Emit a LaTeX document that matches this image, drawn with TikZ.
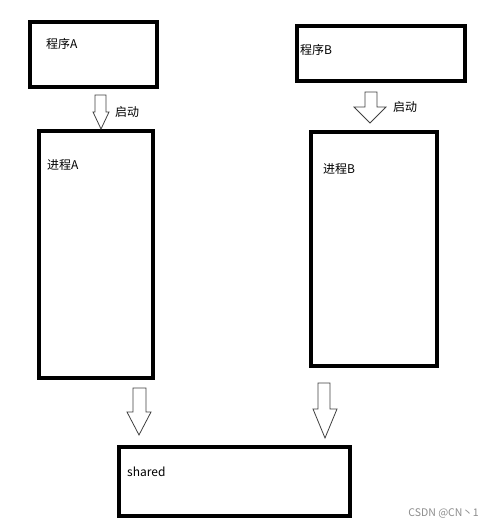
\documentclass[tikz,border=0pt]{standalone}
\usepackage{fontspec}
\setmainfont{Liberation Sans}
\newfontfamily\cjk{Noto Sans CJK SC}
\begin{document}
\begin{tikzpicture}[x=1pt,y=-1pt,
  box/.style={draw=black,line width=3.8pt},
  lbl/.style={font=\cjk\fontsize{12}{14}\selectfont,inner sep=0pt,anchor=west},
  blockarrow/.style={draw=black!75,line width=0.8pt,fill=white,line join=miter}]
\useasboundingbox (0,0) rectangle (490,527);
% boxes
\draw[box] (30,22) rectangle (157,87);
\draw[box] (39,131) rectangle (153,378);
\draw[box] (297,26) rectangle (465,81);
\draw[box] (311,132) rectangle (437,366);
\draw[box] (119,447) rectangle (350,516);
% labels
\node[lbl] (pa) at (46,44) {程序A};
\node[lbl] (ja) at (47,165) {进程A};
\node[lbl] (pb) at (300,50) {程序B};
\node[lbl] (jb) at (323,169) {进程B};
\node[lbl] (sh) at (127,472) {shared};
\node[lbl] (qa) at (115,112) {启动};
\node[lbl] (qb) at (393,107) {启动};
\node[font=\cjk\fontsize{10.5}{12}\selectfont,text=black!45,inner sep=0pt,anchor=east] (wm) at (479,513) {CSDN @CN丶1};
% block arrows
\draw[blockarrow] (95,95) -- (106,95) -- (106,112) -- (109,112) -- (101,129) -- (93,112) -- (95,112) -- cycle;
\draw[blockarrow] (365,92) -- (377,92) -- (377,107) -- (386,107) -- (370,123) -- (354,107) -- (365,107) -- cycle;
\draw[blockarrow] (133,388) -- (146,388) -- (146,412) -- (151,412) -- (139,435) -- (127,412) -- (133,412) -- cycle;
\draw[blockarrow] (318,383) -- (330,383) -- (330,409) -- (337,409) -- (325,438) -- (313,409) -- (318,409) -- cycle;
\end{tikzpicture}
\end{document}
